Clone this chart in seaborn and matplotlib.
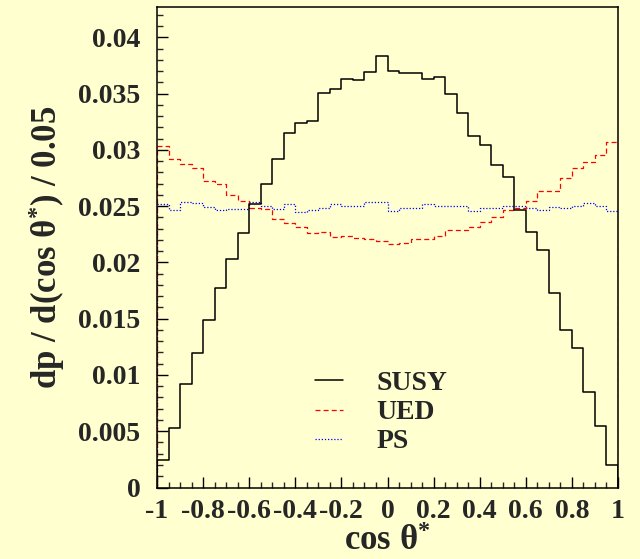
"""
Angular distribution cos(theta*) for SUSY / UED / PS, ROOT-style histogram.
"""

import numpy as np
import pandas as pd
import matplotlib
matplotlib.use("Agg")
import matplotlib.pyplot as plt
from matplotlib.lines import Line2D
from matplotlib.ticker import MultipleLocator
import seaborn as sns

# 40 bins of width 0.05 on [-1, 1]
bin_edges = np.linspace(-1.0, 1.0, 41)

susy = [0.00244, 0.00526, 0.00917, 0.01194, 0.0149, 0.01772, 0.0203, 0.02258,
        0.02518, 0.02698, 0.0292, 0.03146, 0.03243, 0.03255, 0.03506, 0.03539,
        0.03634, 0.03625, 0.03696, 0.03838, 0.03702, 0.0368, 0.0368, 0.03627,
        0.03651, 0.035, 0.03328, 0.03124, 0.0304, 0.02866, 0.02763, 0.0247,
        0.02269, 0.02109, 0.0173, 0.01399, 0.01239, 0.00845, 0.00544, 0.00197]

ued = [0.03033, 0.02915, 0.02876, 0.0284, 0.02728, 0.02693, 0.02595, 0.02542,
       0.02488, 0.02476, 0.02382, 0.02349, 0.02316, 0.0226, 0.02272, 0.02222,
       0.02236, 0.02216, 0.02207, 0.02192, 0.02160, 0.02174, 0.02207, 0.02207,
       0.02233, 0.02284, 0.02287, 0.02316, 0.02358, 0.02405, 0.02464, 0.02488,
       0.0255, 0.02639, 0.02639, 0.02746, 0.0284, 0.02893, 0.02959, 0.03066]

ps = [0.02518, 0.0247, 0.02533, 0.0253, 0.02494, 0.0247, 0.02476, 0.02476,
      0.02538, 0.02506, 0.02476, 0.02518, 0.02449, 0.02464, 0.02488, 0.02518,
      0.02506, 0.025, 0.02533, 0.02533, 0.02458, 0.02488, 0.02488, 0.02515,
      0.025, 0.025, 0.025, 0.0246, 0.0248, 0.0248, 0.02506, 0.02506,
      0.02488, 0.0247, 0.02494, 0.0248, 0.02506, 0.02527, 0.025, 0.02455]

labels = ["SUSY", "UED", "PS"]
x_ticks = [-1, -0.8, -0.6, -0.4, -0.2, 0, 0.2, 0.4, 0.6, 0.8, 1]
x_tick_labels = ["-1", "-0.8", "-0.6", "-0.4", "-0.2", "0", "0.2", "0.4", "0.6", "0.8", "1"]
y_ticks = [0, 0.005, 0.01, 0.015, 0.02, 0.025, 0.03, 0.035, 0.04]
y_tick_labels = ["0", "0.005", "0.01", "0.015", "0.02", "0.025", "0.03", "0.035", "0.04"]

bg = "#ffffd0"
styles = {
    "SUSY": dict(color="black", linewidth=1.1, linestyle="-"),
    "UED": dict(color="red", linewidth=0.9, linestyle=(0, (4, 2.5))),
    "PS": dict(color="blue", linewidth=0.9, linestyle=(0, (1, 1.5))),
}

sns.set_style("ticks")
plt.rcParams["font.family"] = ["Liberation Serif", "DejaVu Serif"]
plt.rcParams["font.weight"] = "bold"
plt.rcParams["mathtext.fontset"] = "custom"
plt.rcParams["mathtext.rm"] = "Liberation Serif:bold"
plt.rcParams["mathtext.bf"] = "Liberation Serif:bold"
plt.rcParams["mathtext.it"] = "Liberation Serif:bold"

centers = 0.5 * (bin_edges[:-1] + bin_edges[1:])
df = pd.concat([
    pd.DataFrame({"cos": centers, "w": vals, "model": name})
    for name, vals in zip(labels, [susy, ued, ps])
], ignore_index=True)

fig = plt.figure(figsize=(6.4, 5.59), dpi=100, facecolor=bg)
ax = fig.add_axes([157 / 640, 1 - 487.5 / 559, 461 / 640, 480.5 / 559])
ax.set_facecolor(bg)

for name in labels[::-1]:
    sub = df[df["model"] == name]
    sns.histplot(data=sub, x="cos", weights="w", bins=bin_edges.tolist(),
                 element="step", fill=False, ax=ax, **styles[name])
    # ROOT draws the outline down to zero at both ends
    vals = sub["w"].to_numpy()
    ax.vlines([bin_edges[0], bin_edges[-1]], 0, [vals[0], vals[-1]],
              colors=styles[name]["color"], linewidth=styles[name]["linewidth"],
              linestyles=styles[name]["linestyle"])

ax.set_xlim(-1, 1)
ax.set_ylim(0, 0.0427)
ax.set_xticks(x_ticks)
ax.set_xticklabels(x_tick_labels)
ax.set_yticks(y_ticks)
ax.set_yticklabels(y_tick_labels)
ax.xaxis.set_minor_locator(MultipleLocator(0.05))
ax.yaxis.set_minor_locator(MultipleLocator(0.001))
ax.tick_params(axis="both", which="major", direction="in", labelsize=20,
               length=8, width=1, color="black")
ax.tick_params(axis="both", which="minor", direction="in", length=4, width=1)
ax.tick_params(axis="y", which="major", pad=12)
ax.tick_params(axis="x", which="major", pad=8)
for side in ["top", "right", "left", "bottom"]:
    ax.spines[side].set_visible(True)
    ax.spines[side].set_linewidth(1.1)
    ax.spines[side].set_color("black")

ax.set_xlabel(r"cos θ$^{*}$", fontsize=25, fontweight="bold", labelpad=1)
ax.set_ylabel(r"dp / d(cos θ$^{*}$) / 0.05", fontsize=25, fontweight="bold",
              labelpad=8)

handles = [Line2D([], [], **styles[name]) for name in labels]
ax.legend(handles, labels, loc="upper left", bbox_to_anchor=(0.343, 0.243),
          frameon=False, fontsize=20, handlelength=1.0, handletextpad=1.2,
          labelspacing=0.13, borderpad=0, borderaxespad=0)

fig.savefig("out.png", dpi=100, facecolor=bg)
